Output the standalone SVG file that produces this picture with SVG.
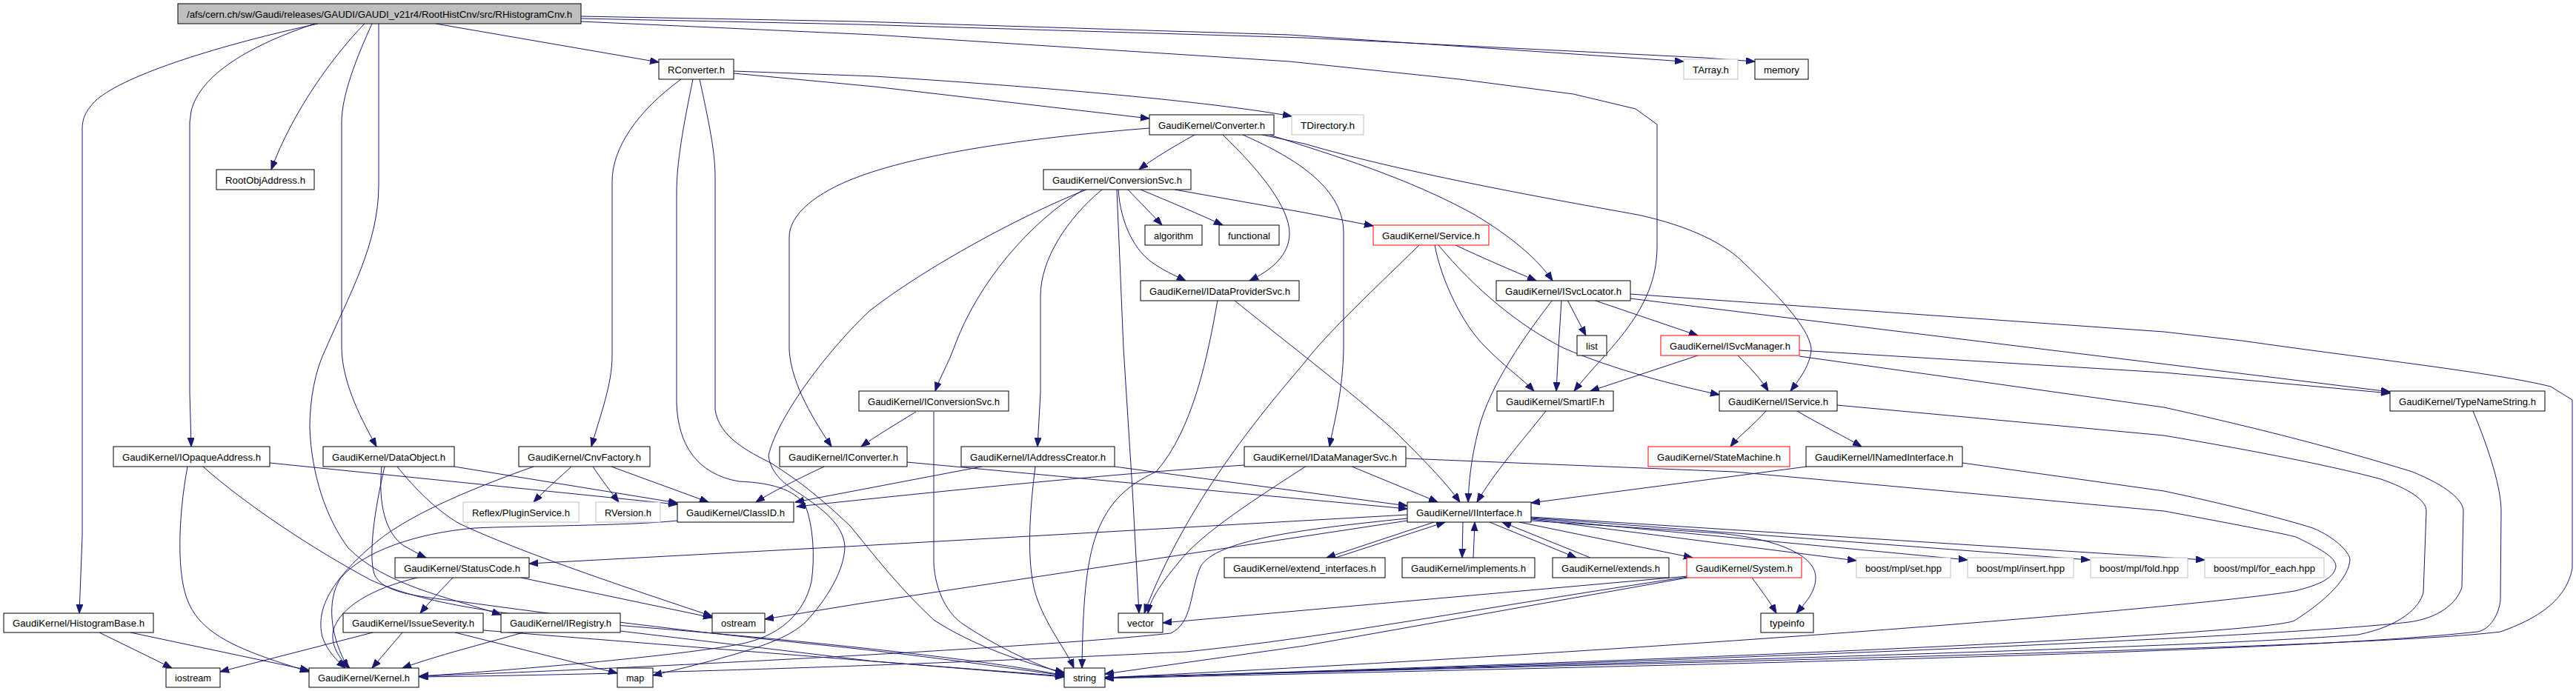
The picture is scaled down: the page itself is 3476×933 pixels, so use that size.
<svg xmlns="http://www.w3.org/2000/svg" width="3476" height="933" viewBox="0 0 3476 933">
<style>
.node rect{fill:#fff;stroke:#000;stroke-width:1}
.node.ext rect{stroke:#bfbfbf}
.node.red rect{stroke:#ff0000}
.node.root rect{fill:#bfbfbf}
.node text{font-family:"Liberation Sans",Arial,sans-serif;font-size:13px;fill:#000;text-anchor:middle}
.e{fill:none;stroke:#191970;stroke-width:1;marker-end:url(#arr)}
</style>
<defs>
<marker id="arr" markerUnits="userSpaceOnUse" markerWidth="13" markerHeight="10" refX="12" refY="4.5" orient="auto">
<path d="M0,0 L12,4.5 L0,9 z" fill="#191970" stroke="#191970" stroke-width="1"/>
</marker>
</defs>
<rect width="3476" height="933" fill="#fff"/>
<g id="edges">
<path class="e" d="M588,32 L889,84"/>
<path class="e" d="M784,22 L1160,29 L1740,47 L2272,83"/>
<path class="e" d="M784,25 L1160,33 L1760,51 L2300,78 L2368,83"/>
<path class="e" d="M784,29 L1180,47 L1740,83 L1970,107 L2123,127 L2207,147 L2236,168 L2236,333 C2236,420 2170,470 2124,528"/>
<path class="e" d="M492,32 C450,75 395,150 366,229"/>
<path class="e" d="M429,32 C300,60 170,100 130,135 C115,150 111,160 111,175 L111,723 L107,828"/>
<path class="e" d="M425,32 C340,60 270,100 258,150 L256,165 L256,530 L258,603"/>
<path class="e" d="M502,32 C480,80 461,130 461,165 L461,470 C462,520 490,570 508,603"/>
<path class="e" d="M511,32 L511,250 C511,330 470,400 440,470 C425,500 418,540 418,577 C420,640 440,700 470,740 C520,790 600,805 676,830"/>
<path class="e" d="M990,96 L1180,103 C1450,120 1650,140 1743,157"/>
<path class="e" d="M990,99 L1180,117 L1551,160"/>
<path class="e" d="M919,107 C860,150 826,200 826,245 L826,480 C826,520 810,560 798,603"/>
<path class="e" d="M935,107 C922,170 913,220 913,260 L913,545 C915,600 940,640 997,650 C1050,652 1075,665 1087,683 C1097,710 1100,750 1095,785 C1085,830 1050,860 997,870 C900,888 650,908 566,913"/>
<path class="e" d="M944,107 C960,180 965,210 965,240 L965,553 C970,590 1010,610 1040,625 C1080,650 1110,675 1147,710 C1180,750 1210,790 1260,837 C1310,870 1380,895 1436,908"/>
<path class="e" d="M1612,182 C1580,200 1555,215 1537,229"/>
<path class="e" d="M1650,182 C1700,230 1740,280 1740,315 C1740,345 1715,365 1686,379"/>
<path class="e" d="M1677,182 C1740,210 1812,250 1813,313 L1813,470 C1812,530 1800,570 1794,603"/>
<path class="e" d="M1703,182 L1760,194 C1900,235 2100,270 2210,290 C2280,305 2330,330 2355,357 C2395,395 2440,440 2444,470 C2444,490 2430,510 2416,528"/>
<path class="e" d="M1713,182 C1800,210 1900,240 1990,290 C2040,320 2075,350 2095,379"/>
<path class="e" d="M1551,173 C1400,185 1250,205 1160,238 C1100,260 1065,290 1065,320 L1065,473 C1068,520 1100,570 1122,603"/>
<path class="e" d="M1462,256 C1390,300 1320,380 1287,470 C1280,490 1268,510 1262,528"/>
<path class="e" d="M1466,256 C1380,290 1250,360 1173,420 C1120,470 1050,560 1037,615 C1040,640 1060,655 1080,667 C1110,688 1137,707 1140,737 C1140,770 1115,810 1087,840 C1060,865 1013,880 881,912"/>
<path class="e" d="M1487,256 C1440,295 1404,350 1404,400 L1404,530 L1400,603"/>
<path class="e" d="M1507,256 L1516,470 L1528,660 L1537,828"/>
<path class="e" d="M1509,256 C1512,300 1530,340 1560,358 C1575,368 1590,374 1600,379"/>
<path class="e" d="M1522,256 C1540,275 1555,290 1568,304"/>
<path class="e" d="M1539,256 C1580,273 1620,290 1650,304"/>
<path class="e" d="M1585,256 L1760,287 L1853,305"/>
<path class="e" d="M1964,331 C2000,348 2040,365 2073,379"/>
<path class="e" d="M1915,331 C1860,385 1790,450 1760,490 C1700,560 1600,680 1544,828"/>
<path class="e" d="M1936,331 C1945,380 1975,440 2004,468 C2030,495 2055,512 2070,528"/>
<path class="e" d="M1941,331 C1990,390 2050,440 2110,470 C2180,500 2260,520 2320,533"/>
<path class="e" d="M2095,405 C2060,450 2010,520 1995,580 C1985,620 1982,650 1981,678"/>
<path class="e" d="M2107,405 L2103,470 L2100,528"/>
<path class="e" d="M2115,405 L2140,453"/>
<path class="e" d="M2150,405 L2291,453"/>
<path class="e" d="M2200,403 L3225,529"/>
<path class="e" d="M2200,397 L2920,448 L3025,460 C3200,485 3366,503 3442,522 L3471,540 L3471,767 C3465,800 3440,830 3374,853 C3200,875 2300,893 1491,915"/>
<path class="e" d="M2345,480 C2360,495 2375,510 2386,528"/>
<path class="e" d="M2291,480 L2146,528"/>
<path class="e" d="M2428,473 L2920,503 L3225,531"/>
<path class="e" d="M2428,481 L2920,550 C3100,590 3200,620 3255,637 C3300,655 3324,675 3324,690 L3322,793 C3315,815 3290,835 3250,840 C3100,858 2400,890 1491,915"/>
<path class="e" d="M2383,555 C2365,575 2345,590 2335,603"/>
<path class="e" d="M2425,555 C2450,570 2490,590 2512,603"/>
<path class="e" d="M2479,547 L2920,588 C3050,610 3150,630 3213,647 C3250,660 3274,675 3274,690 L3270,800 C3265,820 3240,845 3182,857 C3000,872 2400,890 1491,915"/>
<path class="e" d="M2438,630 L2066,679"/>
<path class="e" d="M2648,625 L2920,663 C3000,680 3080,700 3121,713 C3150,725 3170,745 3171,755 C3170,780 3140,810 3096,838 C3060,855 2400,888 1491,915"/>
<path class="e" d="M1897,619 L2340,637 L2920,690 C3000,705 3080,720 3098,725 C3140,745 3152,755 3152,765 C3150,780 3130,790 3096,798 C3000,815 2400,870 1491,915"/>
<path class="e" d="M1822,629 C1860,645 1910,665 1940,678"/>
<path class="e" d="M1763,629 C1700,670 1620,720 1590,760 C1565,790 1552,810 1549,828"/>
<path class="e" d="M1679,628 C1500,640 1300,660 1075,684"/>
<path class="e" d="M1325,630 L1073,678"/>
<path class="e" d="M1397,630 C1388,700 1385,770 1400,810 C1415,850 1440,880 1449,902"/>
<path class="e" d="M1504,630 L1899,683"/>
<path class="e" d="M1224,624 L1899,687"/>
<path class="e" d="M1112,630 C1080,645 1040,665 1020,678"/>
<path class="e" d="M1236,556 C1210,572 1180,590 1162,603"/>
<path class="e" d="M1260,556 L1260,760 C1262,800 1280,830 1300,843 C1340,870 1390,895 1436,910"/>
<path class="e" d="M1643,405 C1630,480 1610,580 1560,637 C1520,655 1495,680 1480,720 C1465,760 1461,820 1460,902"/>
<path class="e" d="M1665,405 C1720,450 1800,510 1880,580 C1920,620 1950,650 1970,678"/>
<path class="e" d="M2086,555 C2050,600 2015,640 1993,678"/>
<path class="e" d="M364,625 L914,681"/>
<path class="e" d="M613,630 L914,679"/>
<path class="e" d="M253,630 C240,700 238,780 255,815 C275,860 330,880 417,907"/>
<path class="e" d="M274,630 C330,680 420,740 500,783 C560,810 650,830 880,848 C1000,858 1300,885 1436,912"/>
<path class="e" d="M515,630 C510,680 520,720 545,737 C560,745 568,750 575,753"/>
<path class="e" d="M519,630 C505,690 497,750 505,775 C515,800 560,805 620,812 C750,830 950,855 1100,870 C1250,885 1380,905 1436,912"/>
<path class="e" d="M536,630 C560,660 590,690 620,707 C700,745 850,795 961,832"/>
<path class="e" d="M771,630 C755,645 735,662 720,678"/>
<path class="e" d="M800,630 C812,648 825,665 835,678"/>
<path class="e" d="M825,630 L956,678"/>
<path class="e" d="M720,630 C650,655 560,690 510,730 C450,780 425,820 435,860 C442,880 455,892 466,902"/>
<path class="e" d="M914,703 C850,710 700,710 640,713 C560,720 490,745 460,780 C440,810 445,860 470,902"/>
<path class="e" d="M611,780 C595,797 580,812 567,828"/>
<path class="e" d="M703,780 L961,834"/>
<path class="e" d="M563,780 C500,795 460,820 450,850 C445,870 458,890 472,902"/>
<path class="e" d="M503,854 L297,907"/>
<path class="e" d="M543,854 L502,902"/>
<path class="e" d="M614,854 L833,909"/>
<path class="e" d="M652,851 L1180,893 L1436,914"/>
<path class="e" d="M706,854 C650,870 590,885 543,902"/>
<path class="e" d="M837,852 L1180,893 L1436,913"/>
<path class="e" d="M134,854 L232,902"/>
<path class="e" d="M176,854 L417,905"/>
<path class="e" d="M1899,695 L1160,737 L714,761"/>
<path class="e" d="M1935,705 L1790,753"/>
<path class="e" d="M1802,753 L1950,705"/>
<path class="e" d="M1974,705 L1973,753"/>
<path class="e" d="M1988,753 L1990,705"/>
<path class="e" d="M2010,705 L2127,753"/>
<path class="e" d="M2146,753 L2027,705"/>
<path class="e" d="M2050,705 L2284,753"/>
<path class="e" d="M2066,701 L2505,757"/>
<path class="e" d="M2066,700 L2655,756"/>
<path class="e" d="M2066,699 L2820,756"/>
<path class="e" d="M2066,698 L2975,756"/>
<path class="e" d="M2066,703 L2320,720 C2400,728 2450,750 2450,780 C2450,800 2435,815 2424,828"/>
<path class="e" d="M2364,780 C2375,795 2388,812 2397,828"/>
<path class="e" d="M1899,703 L1160,815 L1032,836"/>
<path class="e" d="M1899,700 C1750,715 1640,730 1620,765 C1605,800 1610,840 1580,855 C1400,875 800,905 566,913"/>
<path class="e" d="M2277,778 L1569,841"/>
<path class="e" d="M2277,779 C2000,820 1800,860 1600,880 C1300,895 900,910 566,914"/>
<path class="e" d="M2277,780 L1760,872 L1491,910"/>
<path class="e" d="M3337,555 C3360,610 3375,660 3375,690 L3374,810 C3372,830 3360,850 3343,853 C3100,880 2400,895 1491,916"/>
</g>
<g id="n_root" class="node root"><rect x="240" y="5" width="544" height="27"/><text x="512" y="23.5" textLength="520" lengthAdjust="spacingAndGlyphs">/afs/cern.ch/sw/Gaudi/releases/GAUDI/GAUDI_v21r4/RootHistCnv/src/RHistogramCnv.h</text></g>
<g id="n_RConverter" class="node"><rect x="889" y="80" width="101" height="27"/><text x="939.5" y="98.5" textLength="77" lengthAdjust="spacingAndGlyphs">RConverter.h</text></g>
<g id="n_TArray" class="node ext"><rect x="2272" y="80" width="73" height="27"/><text x="2308.5" y="98.5" textLength="49" lengthAdjust="spacingAndGlyphs">TArray.h</text></g>
<g id="n_memory" class="node"><rect x="2368" y="80" width="72" height="27"/><text x="2404" y="98.5" textLength="48" lengthAdjust="spacingAndGlyphs">memory</text></g>
<g id="n_RootObjAddress" class="node"><rect x="292" y="229" width="132" height="27"/><text x="358" y="247.5" textLength="108" lengthAdjust="spacingAndGlyphs">RootObjAddress.h</text></g>
<g id="n_Converter" class="node"><rect x="1551" y="155" width="168" height="27"/><text x="1635" y="173.5" textLength="144" lengthAdjust="spacingAndGlyphs">GaudiKernel/Converter.h</text></g>
<g id="n_TDirectory" class="node ext"><rect x="1743" y="155" width="97" height="27"/><text x="1791.5" y="173.5" textLength="73" lengthAdjust="spacingAndGlyphs">TDirectory.h</text></g>
<g id="n_ConversionSvc" class="node"><rect x="1408" y="229" width="199" height="27"/><text x="1507.5" y="247.5" textLength="175" lengthAdjust="spacingAndGlyphs">GaudiKernel/ConversionSvc.h</text></g>
<g id="n_algorithm" class="node"><rect x="1545" y="304" width="77" height="27"/><text x="1583.5" y="322.5" textLength="53" lengthAdjust="spacingAndGlyphs">algorithm</text></g>
<g id="n_functional" class="node"><rect x="1645" y="304" width="81" height="27"/><text x="1685.5" y="322.5" textLength="57" lengthAdjust="spacingAndGlyphs">functional</text></g>
<g id="n_Service" class="node red"><rect x="1853" y="304" width="156" height="27"/><text x="1931" y="322.5" textLength="132" lengthAdjust="spacingAndGlyphs">GaudiKernel/Service.h</text></g>
<g id="n_ISvcLocator" class="node"><rect x="2019" y="379" width="181" height="27"/><text x="2109.5" y="397.5" textLength="157" lengthAdjust="spacingAndGlyphs">GaudiKernel/ISvcLocator.h</text></g>
<g id="n_IDataProviderSvc" class="node"><rect x="1539" y="379" width="214" height="27"/><text x="1646" y="397.5" textLength="190" lengthAdjust="spacingAndGlyphs">GaudiKernel/IDataProviderSvc.h</text></g>
<g id="n_list" class="node"><rect x="2128" y="453" width="40" height="27"/><text x="2148" y="471.5" textLength="16" lengthAdjust="spacingAndGlyphs">list</text></g>
<g id="n_ISvcManager" class="node red"><rect x="2241" y="453" width="187" height="27"/><text x="2334.5" y="471.5" textLength="163" lengthAdjust="spacingAndGlyphs">GaudiKernel/ISvcManager.h</text></g>
<g id="n_SmartIF" class="node"><rect x="2020" y="528" width="157" height="27"/><text x="2098.5" y="546.5" textLength="133" lengthAdjust="spacingAndGlyphs">GaudiKernel/SmartIF.h</text></g>
<g id="n_IService" class="node"><rect x="2320" y="528" width="159" height="27"/><text x="2399.5" y="546.5" textLength="135" lengthAdjust="spacingAndGlyphs">GaudiKernel/IService.h</text></g>
<g id="n_TypeNameString" class="node"><rect x="3225" y="528" width="209" height="27"/><text x="3329.5" y="546.5" textLength="185" lengthAdjust="spacingAndGlyphs">GaudiKernel/TypeNameString.h</text></g>
<g id="n_IConversionSvc" class="node"><rect x="1159" y="528" width="202" height="27"/><text x="1260" y="546.5" textLength="178" lengthAdjust="spacingAndGlyphs">GaudiKernel/IConversionSvc.h</text></g>
<g id="n_IOpaqueAddress" class="node"><rect x="153" y="603" width="211" height="27"/><text x="258.5" y="621.5" textLength="187" lengthAdjust="spacingAndGlyphs">GaudiKernel/IOpaqueAddress.h</text></g>
<g id="n_DataObject" class="node"><rect x="436" y="603" width="177" height="27"/><text x="524.5" y="621.5" textLength="153" lengthAdjust="spacingAndGlyphs">GaudiKernel/DataObject.h</text></g>
<g id="n_CnvFactory" class="node"><rect x="700" y="603" width="177" height="27"/><text x="788.5" y="621.5" textLength="153" lengthAdjust="spacingAndGlyphs">GaudiKernel/CnvFactory.h</text></g>
<g id="n_IConverter" class="node"><rect x="1052" y="603" width="172" height="27"/><text x="1138" y="621.5" textLength="148" lengthAdjust="spacingAndGlyphs">GaudiKernel/IConverter.h</text></g>
<g id="n_IAddressCreator" class="node"><rect x="1297" y="603" width="207" height="27"/><text x="1400.5" y="621.5" textLength="183" lengthAdjust="spacingAndGlyphs">GaudiKernel/IAddressCreator.h</text></g>
<g id="n_IDataManagerSvc" class="node"><rect x="1679" y="603" width="218" height="27"/><text x="1788" y="621.5" textLength="194" lengthAdjust="spacingAndGlyphs">GaudiKernel/IDataManagerSvc.h</text></g>
<g id="n_StateMachine" class="node red"><rect x="2224" y="603" width="191" height="27"/><text x="2319.5" y="621.5" textLength="167" lengthAdjust="spacingAndGlyphs">GaudiKernel/StateMachine.h</text></g>
<g id="n_INamedInterface" class="node"><rect x="2437" y="603" width="211" height="27"/><text x="2542.5" y="621.5" textLength="187" lengthAdjust="spacingAndGlyphs">GaudiKernel/INamedInterface.h</text></g>
<g id="n_PluginService" class="node ext"><rect x="625" y="678" width="156" height="27"/><text x="703" y="696.5" textLength="132" lengthAdjust="spacingAndGlyphs">Reflex/PluginService.h</text></g>
<g id="n_RVersion" class="node ext"><rect x="804" y="678" width="87" height="27"/><text x="847.5" y="696.5" textLength="63" lengthAdjust="spacingAndGlyphs">RVersion.h</text></g>
<g id="n_ClassID" class="node"><rect x="914" y="678" width="157" height="27"/><text x="992.5" y="696.5" textLength="133" lengthAdjust="spacingAndGlyphs">GaudiKernel/ClassID.h</text></g>
<g id="n_IInterface" class="node"><rect x="1899" y="678" width="167" height="27"/><text x="1982.5" y="696.5" textLength="143" lengthAdjust="spacingAndGlyphs">GaudiKernel/IInterface.h</text></g>
<g id="n_StatusCode" class="node"><rect x="533" y="753" width="181" height="27"/><text x="623.5" y="771.5" textLength="157" lengthAdjust="spacingAndGlyphs">GaudiKernel/StatusCode.h</text></g>
<g id="n_extend_interfaces" class="node"><rect x="1652" y="753" width="217" height="27"/><text x="1760.5" y="771.5" textLength="193" lengthAdjust="spacingAndGlyphs">GaudiKernel/extend_interfaces.h</text></g>
<g id="n_implements" class="node"><rect x="1892" y="753" width="179" height="27"/><text x="1981.5" y="771.5" textLength="155" lengthAdjust="spacingAndGlyphs">GaudiKernel/implements.h</text></g>
<g id="n_extends" class="node"><rect x="2095" y="753" width="157" height="27"/><text x="2173.5" y="771.5" textLength="133" lengthAdjust="spacingAndGlyphs">GaudiKernel/extends.h</text></g>
<g id="n_System" class="node red"><rect x="2276" y="753" width="155" height="27"/><text x="2353.5" y="771.5" textLength="131" lengthAdjust="spacingAndGlyphs">GaudiKernel/System.h</text></g>
<g id="n_set" class="node ext"><rect x="2505" y="753" width="127" height="27"/><text x="2568.5" y="771.5" textLength="103" lengthAdjust="spacingAndGlyphs">boost/mpl/set.hpp</text></g>
<g id="n_insert" class="node ext"><rect x="2655" y="753" width="143" height="27"/><text x="2726.5" y="771.5" textLength="119" lengthAdjust="spacingAndGlyphs">boost/mpl/insert.hpp</text></g>
<g id="n_fold" class="node ext"><rect x="2821" y="753" width="131" height="27"/><text x="2886.5" y="771.5" textLength="107" lengthAdjust="spacingAndGlyphs">boost/mpl/fold.hpp</text></g>
<g id="n_for_each" class="node ext"><rect x="2975" y="753" width="161" height="27"/><text x="3055.5" y="771.5" textLength="137" lengthAdjust="spacingAndGlyphs">boost/mpl/for_each.hpp</text></g>
<g id="n_HistogramBase" class="node"><rect x="5" y="828" width="202" height="26"/><text x="106" y="846" textLength="178" lengthAdjust="spacingAndGlyphs">GaudiKernel/HistogramBase.h</text></g>
<g id="n_IssueSeverity" class="node"><rect x="463" y="828" width="189" height="26"/><text x="557.5" y="846" textLength="165" lengthAdjust="spacingAndGlyphs">GaudiKernel/IssueSeverity.h</text></g>
<g id="n_IRegistry" class="node"><rect x="676" y="828" width="161" height="26"/><text x="756.5" y="846" textLength="137" lengthAdjust="spacingAndGlyphs">GaudiKernel/IRegistry.h</text></g>
<g id="n_ostream" class="node"><rect x="961" y="828" width="71" height="26"/><text x="996.5" y="846" textLength="47" lengthAdjust="spacingAndGlyphs">ostream</text></g>
<g id="n_vector" class="node"><rect x="1509" y="828" width="60" height="26"/><text x="1539" y="846" textLength="36" lengthAdjust="spacingAndGlyphs">vector</text></g>
<g id="n_typeinfo" class="node"><rect x="2376" y="828" width="71" height="26"/><text x="2411.5" y="846" textLength="47" lengthAdjust="spacingAndGlyphs">typeinfo</text></g>
<g id="n_iostream" class="node"><rect x="224" y="902" width="73" height="26"/><text x="260.5" y="920" textLength="49" lengthAdjust="spacingAndGlyphs">iostream</text></g>
<g id="n_Kernel" class="node"><rect x="417" y="902" width="148" height="26"/><text x="491" y="920" textLength="124" lengthAdjust="spacingAndGlyphs">GaudiKernel/Kernel.h</text></g>
<g id="n_map" class="node"><rect x="833" y="902" width="48" height="26"/><text x="857" y="920" textLength="24" lengthAdjust="spacingAndGlyphs">map</text></g>
<g id="n_string" class="node"><rect x="1436" y="902" width="55" height="26"/><text x="1463.5" y="920" textLength="31" lengthAdjust="spacingAndGlyphs">string</text></g>
</svg>
